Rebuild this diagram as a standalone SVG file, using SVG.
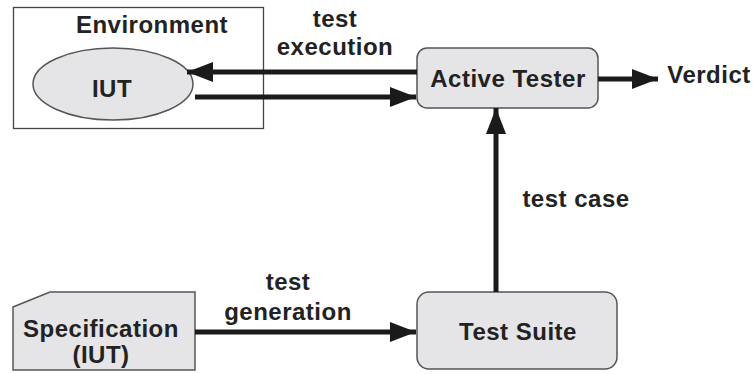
<svg xmlns="http://www.w3.org/2000/svg" width="755" height="374" viewBox="0 0 755 374">
<defs>
<style>
text{font-family:"Liberation Sans",Arial,sans-serif;font-weight:bold;font-size:24px;letter-spacing:0.5px;fill:#222;text-anchor:middle}
.box{fill:#e5e5e7;stroke:#555;stroke-width:1.5}
.edge{stroke:#1a1a1a;stroke-width:5;fill:none}
</style>
<marker id="ah" markerUnits="userSpaceOnUse" markerWidth="28" markerHeight="20" refX="26" refY="10" orient="auto">
<path d="M0,0 L26,10 L0,20 Z" fill="#1a1a1a"/>
</marker>
</defs>
<rect width="755" height="374" fill="#fff"/>
<g id="environment">
<rect x="13.5" y="7.5" width="250" height="121" fill="#fff" stroke="#444" stroke-width="1.3"/>
<text x="152" y="33">Environment</text>
</g>
<g id="iut">
<ellipse class="box" cx="113" cy="84" rx="80" ry="36"/>
<text x="112" y="97">IUT</text>
</g>
<g id="active-tester">
<rect class="box" x="417" y="48" width="181" height="60" rx="10"/>
<text x="508" y="87">Active Tester</text>
</g>
<g id="verdict">
<text x="709" y="83">Verdict</text>
</g>
<g id="test-suite">
<rect class="box" x="417" y="292" width="200" height="77" rx="12"/>
<text x="518" y="340">Test Suite</text>
</g>
<g id="specification">
<path class="box" d="M13,307 L50,292 L195,292 L195,370 L13,370 Z"/>
<text x="101" y="337">Specification</text>
<text x="101" y="363">(IUT)</text>
</g>
<g id="connectors">
<line class="edge" x1="417" y1="72" x2="187" y2="72" marker-end="url(#ah)"/>
<line class="edge" x1="195" y1="97" x2="416" y2="97" marker-end="url(#ah)"/>
<line class="edge" x1="598" y1="79" x2="658" y2="79" marker-end="url(#ah)"/>
<line class="edge" x1="496" y1="292" x2="496" y2="108" marker-end="url(#ah)"/>
<line class="edge" x1="195" y1="332" x2="416" y2="332" marker-end="url(#ah)"/>
<text x="335" y="27">test</text>
<text x="335" y="55">execution</text>
<text x="576" y="207">test case</text>
<text x="288" y="290">test</text>
<text x="288" y="320">generation</text>
</g>
</svg>
